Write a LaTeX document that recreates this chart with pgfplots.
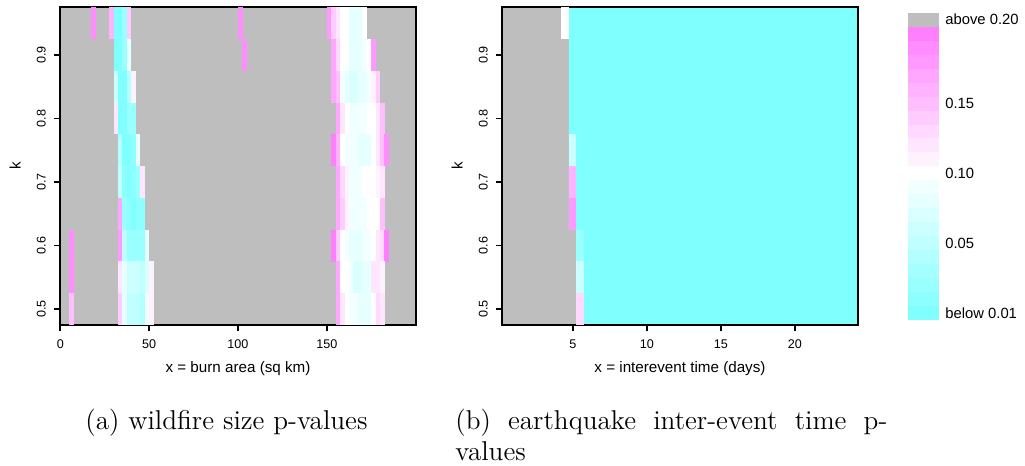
\documentclass[border=0pt]{standalone}
\usepackage{pgfplots}
\pgfplotsset{compat=1.18}
\usepackage{pgfplotstable}
\usepackage{fontspec}
\newfontfamily\rsans{Liberation Sans}
\definecolor{rgray}{RGB}{190,190,190}
\definecolor{k0}{RGB}{128,255,255}
\definecolor{k1}{RGB}{141,255,255}
\definecolor{k2}{RGB}{153,255,255}
\definecolor{k3}{RGB}{166,255,255}
\definecolor{k4}{RGB}{179,255,255}
\definecolor{k5}{RGB}{191,255,255}
\definecolor{k6}{RGB}{204,255,255}
\definecolor{k7}{RGB}{217,255,255}
\definecolor{k8}{RGB}{230,255,255}
\definecolor{k9}{RGB}{242,255,255}
\definecolor{k10}{RGB}{255,255,255}
\definecolor{k11}{RGB}{255,242,255}
\definecolor{k12}{RGB}{255,230,255}
\definecolor{k13}{RGB}{255,217,255}
\definecolor{k14}{RGB}{255,204,255}
\definecolor{k15}{RGB}{255,191,255}
\definecolor{k16}{RGB}{255,179,255}
\definecolor{k17}{RGB}{255,166,255}
\definecolor{k18}{RGB}{255,153,255}
\definecolor{k19}{RGB}{255,141,255}
\definecolor{k20}{RGB}{255,128,255}
\pgfdeclareplotmark{cellA}{\pgfpathrectangle{\pgfpoint{-1.16pt}{-7.97pt}}{\pgfpoint{2.32pt}{15.94pt}}\pgfusepathqfill}
\pgfdeclareplotmark{cellB}{\pgfpathrectangle{\pgfpoint{-1.9pt}{-7.97pt}}{\pgfpoint{3.8pt}{15.94pt}}\pgfusepathqfill}
\pgfdeclareplotmark{cellL}{\pgfpathrectangle{\pgfpoint{-7.825pt}{-3.52pt}}{\pgfpoint{15.65pt}{7.04pt}}\pgfusepathqfill}

% left panel: cell centre x (burn area), k, p-value class (cN ~ p = N/100)
\pgfplotstableread{
x y c
18.75 0.95 c19
28.75 0.95 c16
31.25 0.95 c0
33.75 0.95 c0
36.25 0.95 c2
38.75 0.95 c14
101.25 0.95 c19
151.25 0.95 c18
153.75 0.95 c14
156.25 0.95 c12
158.75 0.95 c10
161.25 0.95 c10
163.75 0.95 c8
166.25 0.95 c8
168.75 0.95 c8
171.25 0.95 c10
31.25 0.90 c0
33.75 0.90 c0
36.25 0.90 c2
38.75 0.90 c8
103.75 0.90 c19
153.75 0.90 c17
156.25 0.90 c13
158.75 0.90 c10
161.25 0.90 c10
163.75 0.90 c8
166.25 0.90 c8
168.75 0.90 c8
171.25 0.90 c9
173.75 0.90 c10
176.25 0.90 c18
31.25 0.85 c6
33.75 0.85 c0
36.25 0.85 c0
38.75 0.85 c4
41.25 0.85 c11
153.75 0.85 c17
156.25 0.85 c15
158.75 0.85 c9
161.25 0.85 c8
163.75 0.85 c7
166.25 0.85 c7
168.75 0.85 c8
171.25 0.85 c8
173.75 0.85 c9
176.25 0.85 c11
178.75 0.85 c14
31.25 0.80 c12
33.75 0.80 c0
36.25 0.80 c0
38.75 0.80 c2
41.25 0.80 c2
156.25 0.80 c17
158.75 0.80 c12
161.25 0.80 c10
163.75 0.80 c9
166.25 0.80 c9
168.75 0.80 c9
171.25 0.80 c9
173.75 0.80 c10
176.25 0.80 c10
178.75 0.80 c12
181.25 0.80 c15
33.75 0.75 c4
36.25 0.75 c0
38.75 0.75 c0
41.25 0.75 c1
43.75 0.75 c8
153.75 0.75 c20
156.25 0.75 c16
158.75 0.75 c10
161.25 0.75 c9
163.75 0.75 c9
166.25 0.75 c9
168.75 0.75 c8
171.25 0.75 c8
173.75 0.75 c8
176.25 0.75 c10
178.75 0.75 c12
181.25 0.75 c15
183.75 0.75 c19
33.75 0.70 c5
36.25 0.70 c1
38.75 0.70 c0
41.25 0.70 c1
43.75 0.70 c2
46.25 0.70 c12
156.25 0.70 c17
158.75 0.70 c13
161.25 0.70 c11
163.75 0.70 c9
166.25 0.70 c9
168.75 0.70 c9
171.25 0.70 c10
173.75 0.70 c10
176.25 0.70 c10
178.75 0.70 c11
181.25 0.70 c12
33.75 0.65 c17
36.25 0.65 c2
38.75 0.65 c1
41.25 0.65 c0
43.75 0.65 c1
46.25 0.65 c1
156.25 0.65 c17
158.75 0.65 c14
161.25 0.65 c11
163.75 0.65 c9
166.25 0.65 c9
168.75 0.65 c9
171.25 0.65 c9
173.75 0.65 c10
176.25 0.65 c10
178.75 0.65 c10
181.25 0.65 c15
6.25 0.60 c19
33.75 0.60 c18
36.25 0.60 c5
38.75 0.60 c2
41.25 0.60 c2
43.75 0.60 c2
46.25 0.60 c2
48.75 0.60 c8
153.75 0.60 c20
156.25 0.60 c14
158.75 0.60 c10
161.25 0.60 c9
163.75 0.60 c8
166.25 0.60 c8
168.75 0.60 c8
171.25 0.60 c9
173.75 0.60 c9
176.25 0.60 c10
178.75 0.60 c12
181.25 0.60 c13
183.75 0.60 c20
6.25 0.55 c19
33.75 0.55 c12
36.25 0.55 c8
38.75 0.55 c6
41.25 0.55 c6
43.75 0.55 c6
46.25 0.55 c5
48.75 0.55 c7
51.25 0.55 c11
156.25 0.55 c17
158.75 0.55 c10
161.25 0.55 c10
163.75 0.55 c9
166.25 0.55 c7
168.75 0.55 c7
171.25 0.55 c8
173.75 0.55 c8
176.25 0.55 c12
178.75 0.55 c12
181.25 0.55 c11
6.25 0.50 c15
33.75 0.50 c14
36.25 0.50 c8
38.75 0.50 c5
41.25 0.50 c5
43.75 0.50 c5
46.25 0.50 c4
48.75 0.50 c9
51.25 0.50 c11
156.25 0.50 c17
158.75 0.50 c12
161.25 0.50 c10
163.75 0.50 c9
166.25 0.50 c9
168.75 0.50 c8
171.25 0.50 c8
173.75 0.50 c8
176.25 0.50 c10
178.75 0.50 c13
181.25 0.50 c12
}\fireT

% right panel: non-saturated cells near the boundary
\pgfplotstableread{
x y c
4.49 0.95 c10
4.99 0.75 c6
4.99 0.70 c16
4.99 0.65 c18
5.49 0.60 c2
5.49 0.55 c6
5.49 0.50 c13
}\quakeT

% cyan (p below 0.01) region of the right panel
\pgfplotstableread{
x y
4.74 0.975
24.24 0.975
24.24 0.475
5.24 0.475
5.24 0.625
4.74 0.625
}\quakeCyan

% legend key
\pgfplotstableread{
x y c
0.5 0.5 c0
0.5 1.5 c1
0.5 2.5 c2
0.5 3.5 c3
0.5 4.5 c4
0.5 5.5 c5
0.5 6.5 c6
0.5 7.5 c7
0.5 8.5 c8
0.5 9.5 c9
0.5 10.5 c10
0.5 11.5 c11
0.5 12.5 c12
0.5 13.5 c13
0.5 14.5 c14
0.5 15.5 c15
0.5 16.5 c16
0.5 17.5 c17
0.5 18.5 c18
0.5 19.5 c19
0.5 20.5 c20
0.5 21.5 g
}\keyT

\pgfplotsset{
  pclasses/.style={
    scatter, only marks, point meta=explicit symbolic,
    scatter/classes={
      c0={fill=k0},c1={fill=k1},c2={fill=k2},c3={fill=k3},c4={fill=k4},
      c5={fill=k5},c6={fill=k6},c7={fill=k7},c8={fill=k8},c9={fill=k9},
      c10={fill=k10},c11={fill=k11},c12={fill=k12},c13={fill=k13},c14={fill=k14},
      c15={fill=k15},c16={fill=k16},c17={fill=k17},c18={fill=k18},c19={fill=k19},
      c20={fill=k20},g={fill=rgray}}
  },
  rpanel/.style={
    scale only axis, width=177.7pt, height=158.85pt,
    axis on top, clip=false,
    axis background/.style={fill=rgray},
    axis line style={line width=0.9pt, black},
    tick align=outside, major tick length=3.2pt,
    every tick/.style={line width=0.9pt, black},
    xtick pos=left, ytick pos=left,
    ymin=0.475, ymax=0.975,
    ytick={0.5,0.6,0.7,0.8,0.9}, yticklabels={0.5,0.6,0.7,0.8,0.9},
    tick label style={font=\rsans\fontsize{6.3}{7.5}\selectfont, inner sep=0pt},
    yticklabel style={xshift=-3.9pt, rotate=90, anchor=south},
    xticklabel style={anchor=north, yshift=-4.05pt},
    every axis x label/.style={at={(axis description cs:0.5,0)}, anchor=center, yshift=-22pt, font=\rsans\fontsize{7.6}{9}\selectfont},
    every axis y label/.style={at={(axis description cs:0,0.5)}, xshift=-22.6pt, rotate=90, anchor=center, font=\rsans\fontsize{7.6}{9}\selectfont},
    ylabel={k},
  }
}

\begin{document}
\begin{tikzpicture}
\useasboundingbox (0pt,0pt) rectangle (512.5pt,233pt);

\begin{axis}[rpanel, at={(30.15pt,70.5pt)}, anchor=south west,
  xmin=0, xmax=200, xtick={0,50,100,150}, xticklabels={0,50,100,150},
  xlabel={x = burn area (sq km)}]
  \addplot[pclasses, mark=cellA] table[x=x, y=y, meta=c] {\fireT};
  \draw[line width=0.9pt, black] (rel axis cs:0,0) rectangle (rel axis cs:1,1);
\end{axis}

\begin{axis}[rpanel, at={(251.15pt,70.5pt)}, anchor=south west,
  xmin=0.24, xmax=24.24, xtick={5,10,15,20}, xticklabels={5,10,15,20},
  xlabel={x = interevent time (days)}]
  \addplot[fill=k0, draw=none] table[x=x, y=y] {\quakeCyan} -- cycle;
  \addplot[pclasses, mark=cellB] table[x=x, y=y, meta=c] {\quakeT};
  \draw[line width=0.9pt, black] (rel axis cs:0,0) rectangle (rel axis cs:1,1);
\end{axis}

\begin{axis}[at={(453.85pt,73pt)}, anchor=south west, scale only axis,
  width=15.65pt, height=153.65pt, xmin=0, xmax=1, ymin=0, ymax=22,
  axis line style={draw=none}, xtick=\empty, major tick length=0pt,
  ytick={0.5,5.5,10.5,15.5,21.5},
  yticklabels={below 0.01,0.05,0.10,0.15,above 0.20},
  ytick pos=right, yticklabel pos=right,
  tick label style={font=\rsans\fontsize{7.4}{9}\selectfont, inner sep=0pt},
  yticklabel style={anchor=west, xshift=3pt}]
  \addplot[pclasses, mark=cellL] table[x=x, y=y, meta=c] {\keyT};
\end{axis}

\node[anchor=base west, inner sep=0pt, font=\fontsize{13.6}{16}\selectfont] at (42.5pt,18pt) {(a) wildfire size p-values};
\node[anchor=base west, inner sep=0pt, font=\fontsize{13.6}{16}\selectfont] at (227.5pt,18pt) {\hbox to 216pt{(b)\hfill earthquake\hfill inter-event\hfill time\hfill p-}};
\node[anchor=base west, inner sep=0pt, font=\fontsize{13.6}{16}\selectfont] at (227.5pt,2.5pt) {values};
\end{tikzpicture}
\end{document}
